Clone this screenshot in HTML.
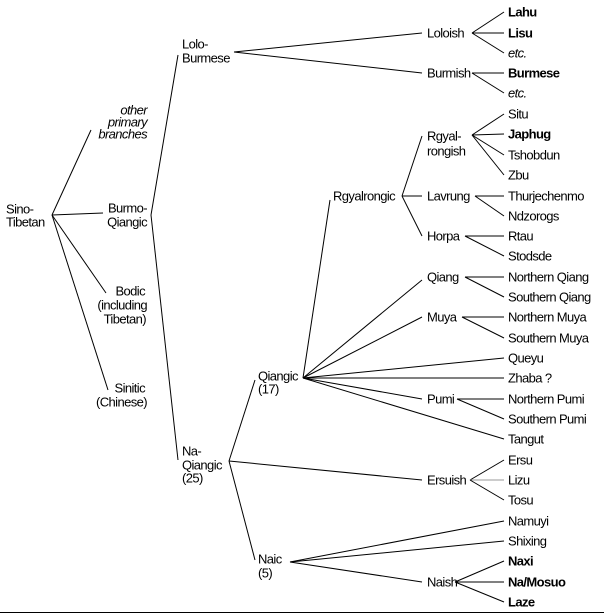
<!DOCTYPE html>
<html><head><meta charset="utf-8"><style>
html,body{margin:0;padding:0;background:#fff;}
svg{display:block;}
text{font-family:"Liberation Sans",Arial,sans-serif;font-size:13px;fill:#000;letter-spacing:-0.6px;dominant-baseline:central;}
.b{font-weight:bold;}
.i{font-style:italic;}
.e{text-anchor:end;}
line{stroke:#000;stroke-width:1;}
</style></head><body>
<svg width="604" height="614" viewBox="0 0 604 614">
<g>
<line x1="52" y1="215" x2="91" y2="130"/>
<line x1="52" y1="215" x2="103" y2="213"/>
<line x1="52" y1="215" x2="106" y2="293"/>
<line x1="52" y1="215" x2="108" y2="390"/>
<line x1="151" y1="215" x2="178" y2="55"/>
<line x1="151" y1="215" x2="178" y2="460"/>
<line x1="234" y1="52" x2="422" y2="33"/>
<line x1="234" y1="52" x2="422" y2="73"/>
<line x1="472" y1="33" x2="504" y2="12"/>
<line x1="472" y1="33" x2="504" y2="33"/>
<line x1="472" y1="33" x2="504" y2="53"/>
<line x1="472" y1="73" x2="504" y2="73"/>
<line x1="472" y1="73" x2="504" y2="93"/>
<line x1="229" y1="461" x2="255" y2="380"/>
<line x1="229" y1="461" x2="422" y2="480"/>
<line x1="229" y1="461" x2="255" y2="560"/>
<line x1="303" y1="378" x2="330" y2="200"/>
<line x1="303" y1="378" x2="422" y2="280"/>
<line x1="303" y1="378" x2="422" y2="317"/>
<line x1="303" y1="378" x2="504" y2="358"/>
<line x1="303" y1="378" x2="504" y2="378"/>
<line x1="303" y1="378" x2="422" y2="399"/>
<line x1="303" y1="378" x2="504" y2="439"/>
<line x1="402" y1="196" x2="422" y2="136"/>
<line x1="402" y1="196" x2="422" y2="196"/>
<line x1="402" y1="196" x2="422" y2="236"/>
<line x1="472" y1="135" x2="504" y2="114"/>
<line x1="472" y1="135" x2="504" y2="134"/>
<line x1="472" y1="135" x2="504" y2="155"/>
<line x1="472" y1="135" x2="504" y2="175"/>
<line x1="475" y1="196" x2="504" y2="196"/>
<line x1="475" y1="196" x2="504" y2="216"/>
<line x1="465" y1="236" x2="504" y2="236"/>
<line x1="465" y1="236" x2="504" y2="256"/>
<line x1="465" y1="277" x2="504" y2="277"/>
<line x1="465" y1="277" x2="504" y2="297"/>
<line x1="462" y1="317" x2="504" y2="317"/>
<line x1="462" y1="317" x2="504" y2="338"/>
<line x1="457" y1="399" x2="504" y2="399"/>
<line x1="457" y1="399" x2="504" y2="419"/>
<line x1="470" y1="480" x2="504" y2="460"/>
<line x1="470" y1="480" x2="504" y2="480" style="stroke:#999"/>
<line x1="470" y1="480" x2="504" y2="500"/>
<line x1="290" y1="562" x2="504" y2="521"/>
<line x1="290" y1="562" x2="504" y2="541"/>
<line x1="290" y1="562" x2="422" y2="582"/>
<line x1="455" y1="582" x2="504" y2="561"/>
<line x1="455" y1="582" x2="504" y2="582"/>
<line x1="455" y1="582" x2="504" y2="602"/>
<line x1="0" y1="612.5" x2="604" y2="612.5"/>
</g>

<text x="6" y="209">Sino-</text>
<text x="6" y="222">Tibetan</text>
<text class="i e" x="147" y="110">other</text>
<text class="i e" x="147" y="122">primary</text>
<text class="i e" x="147" y="134">branches</text>
<text class="e" x="147" y="208">Burmo-</text>
<text class="e" x="147" y="222">Qiangic</text>
<text class="e" x="145" y="291">Bodic</text>
<text class="e" x="147" y="305">(including</text>
<text class="e" x="146" y="319">Tibetan)</text>
<text class="e" x="145" y="388">Sinitic</text>
<text class="e" x="147" y="402">(Chinese)</text>

<text x="182" y="44">Lolo-</text>
<text x="182" y="58">Burmese</text>
<text x="182" y="451">Na-</text>
<text x="182" y="465">Qiangic</text>
<text x="182" y="478">(25)</text>

<text x="258" y="376">Qiangic</text>
<text x="258" y="389">(17)</text>
<text x="258" y="559">Naic</text>
<text x="258" y="573">(5)</text>
<text x="333" y="196">Rgyalrongic</text>

<text x="427" y="33">Loloish</text>
<text x="427" y="73">Burmish</text>
<text x="427" y="136">Rgyal-</text>
<text x="427" y="151">rongish</text>
<text x="427" y="196">Lavrung</text>
<text x="427" y="236">Horpa</text>
<text x="427" y="277">Qiang</text>
<text x="427" y="317">Muya</text>
<text x="427" y="399">Pumi</text>
<text x="427" y="480">Ersuish</text>
<text x="427" y="582">Naish</text>

<text class="b" x="508" y="12">Lahu</text>
<text class="b" x="508" y="33">Lisu</text>
<text class="i" x="508" y="53">etc.</text>
<text class="b" x="508" y="73">Burmese</text>
<text class="i" x="508" y="93">etc.</text>
<text x="508" y="114">Situ</text>
<text class="b" x="508" y="134">Japhug</text>
<text x="508" y="155">Tshobdun</text>
<text x="508" y="175">Zbu</text>
<text x="508" y="196">Thurjechenmo</text>
<text x="508" y="216">Ndzorogs</text>
<text x="508" y="236">Rtau</text>
<text x="508" y="256">Stodsde</text>
<text x="508" y="277">Northern Qiang</text>
<text x="508" y="297">Southern Qiang</text>
<text x="508" y="317">Northern Muya</text>
<text x="508" y="338">Southern Muya</text>
<text x="508" y="358">Queyu</text>
<text x="508" y="378">Zhaba ?</text>
<text x="508" y="399">Northern Pumi</text>
<text x="508" y="419">Southern Pumi</text>
<text x="508" y="439">Tangut</text>
<text x="508" y="460">Ersu</text>
<text x="508" y="480">Lizu</text>
<text x="508" y="500">Tosu</text>
<text x="508" y="521">Namuyi</text>
<text x="508" y="541">Shixing</text>
<text class="b" x="508" y="561">Naxi</text>
<text class="b" x="508" y="582">Na/Mosuo</text>
<text class="b" x="508" y="602">Laze</text>
</svg>
</body></html>
